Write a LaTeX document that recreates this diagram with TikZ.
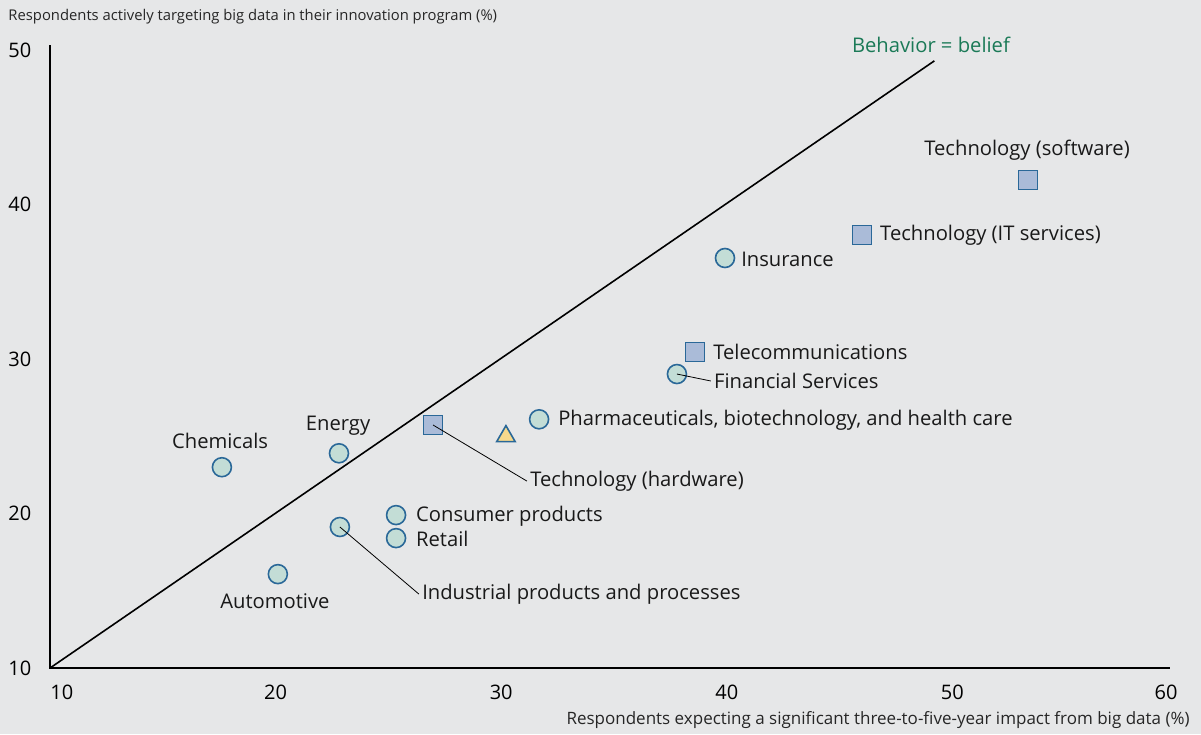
\documentclass[tikz,border=0pt]{standalone}
\usepackage{fontspec}
\setmainfont{Open Sans}
\usepackage{tikz}
\usetikzlibrary{shapes.geometric, positioning}

\definecolor{bgcol}{HTML}{E6E7E8}
\definecolor{edgeblue}{HTML}{2A6898}
\definecolor{circfill}{HTML}{C3DDD6}
\definecolor{sqfill}{HTML}{AABBD8}
\definecolor{trifill}{HTML}{F7D98C}
\definecolor{beliefgreen}{HTML}{1B7A57}

\begin{document}
\begin{tikzpicture}[x=11.28pt, y=7.725pt, font=\fontsize{10.1}{12}\selectfont,
				   dot/.style={circle, draw=edgeblue, fill=circfill, thick, minimum size=9.5pt, inner sep=0pt},
				   sq/.style={rectangle, draw=edgeblue, fill=sqfill, thick, minimum size=9.5pt, inner sep=0pt},
				   tri/.style={isosceles triangle, isosceles triangle apex angle=60, shape border rotate=90, draw=edgeblue, fill=trifill, thick, minimum height=8pt, inner sep=0pt},
				   lab/.style={inner sep=1.5pt, text=black!90},
				   tick/.style={inner sep=0pt, font=\fontsize{10}{12}\selectfont},
				   axtitle/.style={inner sep=0pt, text=black!85}]
% canvas
\fill[bgcol] (7.784,5.728) rectangle (61.02,53.24);
\useasboundingbox (7.784,5.728) rectangle (61.02,53.24);

% axes
\coordinate (O) at (10,10);
\coordinate (ytop) at (10,50.3);
\coordinate (xend) at (59.65,10);
\draw[thick] (ytop) -- (O) -- (xend);
\node[axtitle, anchor=west, font=\fontsize{7.4}{9}\selectfont] (ytitle) at (8.14,52.14) {Respondents actively targeting big data in their innovation program (\%)};
\node[axtitle, anchor=east, font=\fontsize{8.5}{10}\selectfont] (xtitle) at (60.53,6.63) {Respondents expecting a significant three-to-five-year impact from big data (\%)};
\foreach \v in {10,20,30,40,50}
	\node[tick, anchor=west] (y\v) at (8.14,\v) {\v};
\node[tick, anchor=west] (x10) at (10,8.45) {10};
\foreach \v in {20,30,40,50}
	\node[tick] (x\v) at (\v,8.45) {\v};
\node[tick, anchor=east] (x60) at (60,8.45) {60};

% behavior = belief
\coordinate (bb) at (49.2,49.3);
\draw[thick] (O) -- (bb);
\node[lab, text=beliefgreen] (bblab) at (49.05,50.32) {Behavior = belief};

% data points
\node[dot] (chem) at (17.62,23.0) {};
\node[dot] (energy) at (22.81,23.9) {};
\node[dot] (auto) at (20.1,16.08) {};
\node[dot] (ind) at (22.85,19.13) {};
\node[dot] (cons) at (25.34,19.9) {};
\node[dot] (retail) at (25.34,18.41) {};
\node[sq] (hw) at (26.98,25.73) {};
\node[tri] (yel) at (30.21,25.0) {};
\node[dot] (pharma) at (31.68,26.1) {};
\node[dot] (fin) at (37.79,29.03) {};
\node[sq] (tele) at (38.59,30.45) {};
\node[dot] (ins) at (39.92,36.54) {};
\node[sq] (itserv) at (45.99,38.03) {};
\node[sq] (soft) at (53.35,41.59) {};

% labels
\node[lab] (chemlab) at (17.54,24.69) {Chemicals};
\node[lab] (energylab) at (22.77,25.66) {Energy};
\node[lab] (autolab) at (19.97,14.34) {Automotive};
\node[lab, anchor=west] (indlab) at (26.35,14.79) {Industrial products and processes};
\node[lab, anchor=west] (conslab) at (26.08,19.84) {Consumer products};
\node[lab, anchor=west] (retaillab) at (26.08,18.35) {Retail};
\node[lab, anchor=west] (hwlab) at (31.14,22.10) {Technology (hardware)};
\node[lab, anchor=west] (pharmalab) at (32.38,26.05) {Pharmaceuticals, biotechnology, and health care};
\node[lab, anchor=west] (finlab) at (39.29,28.58) {Financial Services};
\node[lab, anchor=west] (telelab) at (39.25,30.45) {Telecommunications};
\node[lab, anchor=west] (inslab) at (40.49,36.47) {Insurance};
\node[lab, anchor=west] (itservlab) at (46.65,38.03) {Technology (IT services)};
\node[lab] (softlab) at (53.31,43.53) {Technology (software)};

% leaders
\draw (ind.center) -- (indlab.west);
\draw (hw.center) -- (hwlab.west);
\draw (fin.center) -- (finlab.west);
\end{tikzpicture}
\end{document}
